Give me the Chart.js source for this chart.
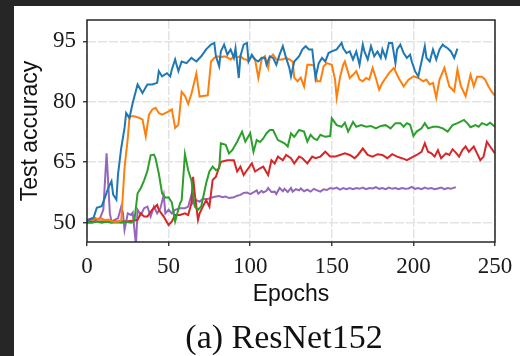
<!DOCTYPE html>
<html>
<head>
<meta charset="utf-8">
<script src="https://cdn.jsdelivr.net/npm/chart.js@4.4.0/dist/chart.umd.min.js"></script>
<style>
  html, body { margin: 0; padding: 0; background: #262626; }
  #fig { position: absolute; left: 14px; top: 6px; width: 506px; height: 350px; background: #fff; overflow: hidden; }
  #chart { position: absolute; left: 0; top: 0; }
  #caption { position: absolute; left: 17px; width: 506px; top: 314px; line-height: 34px;
             text-align: center; font-family: "Liberation Serif", serif; font-size: 34px; color: #111; }
</style>
</head>
<body>
<div id="fig">
  <canvas id="chart" width="506" height="350"></canvas>
  <div id="caption">(a) ResNet152</div>
</div>
<script>
"use strict";

const xTicks = [0, 50, 100, 150, 200, 250];
const yTicks = [50, 65, 80, 95];

const blueEpochs = [
  0, 2, 4, 6, 9, 11, 13, 15, 16, 18,
  19, 21, 23, 24, 26, 28, 31, 34, 37, 40,
  43, 44, 46, 49, 51, 52, 54, 56, 58, 61,
  64, 67, 70, 73, 76, 78, 79, 81, 82, 84,
  86, 88, 90, 91, 93, 94, 96, 98, 99, 101,
  103, 105, 107, 109, 110, 112, 114, 116, 118, 120,
  122, 124, 125, 127, 130, 132, 134, 136, 138, 140,
  142, 144, 146, 148, 150, 153, 156, 157, 159, 161,
  163, 165, 167, 169, 170, 172, 174, 176, 178, 180,
  181, 183, 185, 187, 189, 190, 192, 194, 196, 198,
  199, 201, 203, 205, 207, 208, 210, 212, 214, 216,
  218, 219, 221, 223, 225, 227];
const blueAcc = [
  50.5, 50.8, 51.2, 53.7, 54.1, 56.2, 58.6, 60.3, 57.0, 55.7,
  62.0, 68.6, 73.5, 77.2, 76.0, 79.7, 84.3, 82.2, 84.3, 84.3,
  84.7, 87.6, 86.3, 87.1, 86.3, 88.0, 90.5, 87.6, 90.0, 89.6,
  90.9, 90.0, 91.3, 93.0, 94.2, 94.6, 91.3, 88.8, 92.5, 94.2,
  91.7, 93.0, 90.9, 93.3, 85.9, 91.3, 94.2, 94.6, 90.0, 91.7,
  90.5, 90.0, 90.9, 90.9, 89.2, 91.3, 90.9, 89.2, 91.7, 93.8,
  90.9, 88.4, 86.3, 90.0, 91.3, 93.0, 93.8, 93.0, 93.0, 85.9,
  89.6, 90.9, 90.0, 92.1, 92.5, 93.0, 94.6, 93.3, 92.1, 92.5,
  90.5, 92.5, 89.2, 94.2, 92.5, 90.5, 93.8, 91.3, 92.5, 90.9,
  93.0, 90.9, 94.6, 94.6, 89.6, 93.0, 94.2, 92.1, 90.9, 91.7,
  90.0, 87.6, 86.3, 90.0, 93.8, 90.9, 90.0, 93.0, 90.5, 93.0,
  94.2, 93.8, 93.3, 92.5, 90.9, 93.2];

const orangeEpochs = [
  0, 3, 5, 7, 9, 11, 13, 15, 17, 19,
  21, 23, 25, 26, 27, 29, 32, 34, 36, 38,
  40, 42, 44, 46, 48, 50, 52, 54, 56, 58,
  60, 62, 64, 67, 69, 72, 74, 76, 78, 80,
  82, 84, 86, 88, 90, 92, 94, 96, 98, 99,
  101, 103, 105, 107, 109, 111, 112, 114, 116, 118,
  120, 122, 124, 126, 127, 129, 131, 133, 135, 137,
  139, 141, 143, 145, 147, 150, 152, 153, 155, 157,
  158, 161, 163, 165, 167, 169, 171, 173, 175, 177,
  179, 181, 183, 185, 188, 191, 194, 197, 200, 203,
  206, 208, 210, 212, 214, 216, 219, 222, 225, 227,
  229, 232, 235, 237, 239, 242, 244, 246, 248, 250];
const orangeAcc = [
  50.5, 50.8, 51.2, 50.8, 51.0, 50.6, 50.8, 50.4, 50.2, 50.3,
  50.5, 63.6, 71.0, 76.0, 76.4, 76.4, 76.0, 75.6, 71.4, 76.8,
  78.1, 78.5, 77.2, 76.8, 77.2, 77.6, 78.1, 73.5, 74.3, 82.5,
  81.5, 79.5, 82.0, 87.0, 81.3, 81.5, 81.6, 90.0, 90.9, 91.3,
  91.0, 91.3, 91.0, 90.5, 91.3, 91.0, 91.3, 90.6, 90.4, 90.0,
  91.3, 90.5, 85.9, 90.5, 91.3, 88.4, 90.9, 91.7, 90.5, 90.5,
  90.5, 90.9, 90.5, 90.0, 86.0, 85.1, 86.0, 83.8, 89.2, 89.2,
  89.0, 85.1, 85.1, 88.8, 89.6, 89.2, 85.5, 81.0, 86.0, 89.2,
  90.0, 85.9, 86.7, 87.6, 85.5, 85.1, 85.9, 85.5, 88.4, 85.9,
  83.0, 84.7, 85.9, 87.1, 88.4, 85.9, 83.8, 85.5, 86.3, 85.9,
  85.1, 85.5, 84.3, 84.7, 81.0, 85.5, 88.4, 83.8, 82.6, 88.0,
  84.0, 81.4, 86.7, 83.8, 86.2, 86.2, 85.5, 83.8, 82.5, 81.5];

const greenEpochs = [
  0, 3, 6, 9, 12, 15, 18, 21, 24, 27,
  29, 31, 33, 35, 37, 39, 41, 42, 44, 46,
  48, 50, 52, 54, 57, 58, 60, 62, 64, 66,
  68, 70, 73, 75, 77, 79, 81, 82, 85, 87,
  89, 92, 95, 97, 100, 102, 104, 106, 108, 110,
  112, 114, 117, 119, 121, 123, 125, 127, 130, 133,
  135, 137, 139, 141, 143, 146, 149, 150, 153, 156,
  158, 160, 163, 165, 168, 171, 174, 177, 180, 183,
  186, 189, 192, 194, 196, 198, 200, 202, 205, 207,
  209, 212, 215, 218, 221, 224, 227, 231, 233, 235,
  238, 240, 242, 245, 247, 250];
const greenAcc = [
  50.0, 50.0, 50.3, 50.0, 50.2, 50.0, 50.1, 50.0, 50.2, 50.0,
  50.4, 57.3, 58.6, 60.5, 62.8, 66.7, 66.9, 66.0, 62.2, 57.3,
  56.2, 56.3, 55.0, 50.3, 54.8, 55.5, 67.0, 63.0, 60.5, 54.0,
  53.2, 54.0, 59.8, 62.7, 63.9, 63.0, 63.5, 69.7, 69.3, 67.2,
  68.0, 70.1, 72.6, 70.1, 72.2, 67.6, 70.5, 70.0, 70.9, 72.2,
  73.0, 73.0, 70.5, 70.1, 69.7, 68.9, 72.2, 71.3, 73.0, 72.6,
  70.1, 71.8, 70.9, 70.5, 71.8, 71.3, 71.5, 75.9, 74.2, 73.8,
  74.8, 72.6, 75.0, 73.8, 74.2, 73.8, 74.0, 73.4, 74.0, 74.2,
  73.4, 74.7, 74.7, 73.8, 74.7, 74.3, 71.5, 72.6, 73.4, 74.7,
  73.4, 73.8, 73.8, 73.4, 72.6, 74.2, 74.7, 75.5, 74.7, 73.7,
  74.2, 73.8, 74.7, 74.2, 74.8, 73.8];

const redEpochs = [
  0, 4, 8, 12, 16, 20, 24, 28, 31, 33,
  35, 37, 40, 43, 44, 47, 50, 52, 54, 57,
  60, 62, 64, 65, 66, 68, 69, 71, 73, 75,
  77, 79, 82, 86, 90, 92, 94, 96, 98, 101,
  103, 106, 108, 111, 113, 115, 117, 120, 122, 125,
  127, 130, 132, 135, 138, 140, 143, 146, 149, 152,
  155, 158, 161, 164, 166, 169, 172, 175, 178, 181,
  184, 187, 190, 193, 196, 200, 202, 205, 207, 209,
  211, 213, 215, 217, 220, 222, 224, 226, 228, 230,
  232, 234, 237, 239, 241, 243, 245, 247, 250];
const redAcc = [
  50.5, 50.3, 50.3, 50.3, 50.3, 50.3, 50.3, 50.5, 50.7, 52.3,
  51.5, 51.5, 53.2, 54.4, 53.2, 51.5, 49.4, 50.3, 51.9, 51.9,
  52.3, 51.9, 54.8, 61.4, 57.3, 50.7, 52.3, 54.0, 55.6, 54.0,
  60.6, 61.4, 65.1, 65.5, 65.5, 62.7, 63.9, 61.8, 63.0, 64.7,
  62.7, 63.5, 63.9, 61.8, 65.5, 64.7, 66.4, 65.5, 66.8, 66.0,
  64.7, 66.4, 66.0, 64.7, 66.4, 66.0, 66.4, 67.6, 66.4, 66.4,
  66.8, 67.2, 66.8, 66.0, 66.8, 68.4, 66.8, 66.4, 67.0, 66.8,
  66.0, 67.0, 66.4, 66.0, 65.5, 66.4, 66.8, 67.6, 69.7, 67.6,
  67.2, 66.4, 68.0, 66.0, 67.2, 66.8, 68.2, 67.4, 66.4, 68.0,
  68.9, 67.6, 68.9, 67.2, 65.5, 66.4, 70.1, 68.9, 67.2];

const purpleEpochs = [
  0, 3, 5, 8, 10, 12, 13, 14, 15, 17,
  19, 21, 22, 23, 25, 27, 28, 30, 31, 33,
  35, 37, 39, 41, 43, 45, 47, 48, 50, 52,
  54, 57, 60, 62, 64, 65, 67, 69, 71, 73,
  75, 77, 79, 81, 83, 85, 87, 90, 92, 94,
  96, 98, 100, 102, 104, 105, 107, 108, 110, 111,
  113, 115, 116, 118, 120, 121, 123, 125, 126, 128,
  130, 131, 133, 135, 137, 139, 141, 143, 145, 147,
  149, 151, 153, 155, 157, 159, 161, 163, 165, 167,
  169, 171, 173, 175, 177, 179, 181, 183, 185, 187,
  189, 191, 193, 195, 197, 199, 201, 203, 205, 207,
  209, 211, 213, 215, 217, 219, 221, 223, 225, 226];
const purpleAcc = [
  50.7, 51.1, 50.7, 51.1, 53.2, 67.2, 59.8, 52.3, 50.3, 50.7,
  51.1, 54.0, 52.5, 48.2, 52.3, 51.9, 52.5, 44.5, 53.2, 51.9,
  53.6, 54.0, 51.5, 54.0, 52.3, 53.6, 56.9, 52.3, 53.2, 52.3,
  53.2, 53.6, 53.6, 54.0, 56.9, 54.8, 55.6, 55.2, 56.0, 55.8,
  56.0, 56.3, 56.5, 56.6, 56.3, 56.5, 56.1, 56.3, 56.7, 56.9,
  57.4, 57.5, 57.1, 57.5, 58.0, 57.2, 57.9, 57.5, 57.9, 58.6,
  57.6, 57.7, 57.1, 58.6, 57.8, 58.4, 57.6, 58.6, 57.7, 58.3,
  58.0, 58.5, 57.8, 58.2, 57.7, 58.4, 58.0, 57.7, 58.3, 58.1,
  58.6, 58.4, 58.7, 58.2, 58.6, 58.3, 58.6, 58.3, 58.6, 58.4,
  58.7, 58.3, 58.6, 58.5, 58.8, 58.4, 58.6, 58.3, 58.7, 58.4,
  58.6, 58.3, 58.6, 58.4, 58.5, 58.9, 58.4, 58.6, 58.3, 58.7,
  58.4, 58.6, 58.3, 58.5, 58.7, 58.3, 58.6, 58.4, 58.7, 58.8];

function points(epochs, acc) {
  return epochs.map((e, i) => ({x: e, y: acc[i]}));
}

function line(label, color, epochs, acc) {
  return {
    label: label,
    data: points(epochs, acc),
    borderColor: color,
    borderWidth: 2,
    pointRadius: 0,
    tension: 0,
    fill: false
  };
}

// black frame around the plot area, like the matplotlib spines
const framePlugin = {
  id: 'frame',
  afterDraw(chart) {
    const ctx = chart.ctx;
    const a = chart.chartArea;
    ctx.save();
    ctx.strokeStyle = '#262626';
    ctx.lineWidth = 1.5;
    ctx.strokeRect(a.left, a.top, a.right - a.left, a.bottom - a.top);
    ctx.restore();
  }
};

const tickFont = {family: 'Liberation Serif', size: 23};
// small line height so the top label does not push the plot area down
const yTickFont = {family: 'Liberation Serif', size: 23, lineHeight: 0.5};
const titleFont = {family: 'Liberation Sans', size: 23};
const gridOpts = {color: '#e3e3e3', lineWidth: 1.5, tickLength: 4, tickColor: '#262626', tickWidth: 1.3};

new Chart(document.getElementById('chart'), {
  type: 'line',
  data: {
    datasets: [
      line('blue', '#1f77b4', blueEpochs, blueAcc),
      line('orange', '#ff7f0e', orangeEpochs, orangeAcc),
      line('green', '#2ca02c', greenEpochs, greenAcc),
      line('red', '#d62728', redEpochs, redAcc),
      line('purple', '#9467bd', purpleEpochs, purpleAcc)
    ]
  },
  options: {
    responsive: false,
    animation: false,
    devicePixelRatio: 1,
    layout: {padding: {left: 0, right: 25, top: 14, bottom: 30}},
    plugins: {legend: {display: false}, tooltip: {enabled: false}},
    scales: {
      x: {
        type: 'linear',
        min: 0,
        max: 250,
        afterBuildTicks: s => { s.ticks = xTicks.map(v => ({value: v})); },
        afterFit: s => { s.height = 84; },
        grid: gridOpts,
        border: {display: false, dash: [9, 2]},
        ticks: {font: tickFont, color: '#1a1a1a', padding: 7, maxRotation: 0},
        title: {display: true, text: 'Epochs', font: titleFont, color: '#111', padding: {bottom: 18}}
      },
      y: {
        type: 'linear',
        min: 45.2,
        max: 100.3,
        afterBuildTicks: s => { s.ticks = yTicks.map(v => ({value: v})); },
        afterFit: s => { s.width = 73; },
        grid: gridOpts,
        border: {display: false, dash: [9, 2]},
        ticks: {font: yTickFont, color: '#1a1a1a', padding: 7},
        title: {display: true, text: 'Test accuracy', font: titleFont, color: '#111', padding: {top: 3}}
      }
    }
  },
  plugins: [framePlugin]
});
</script>
</body>
</html>
